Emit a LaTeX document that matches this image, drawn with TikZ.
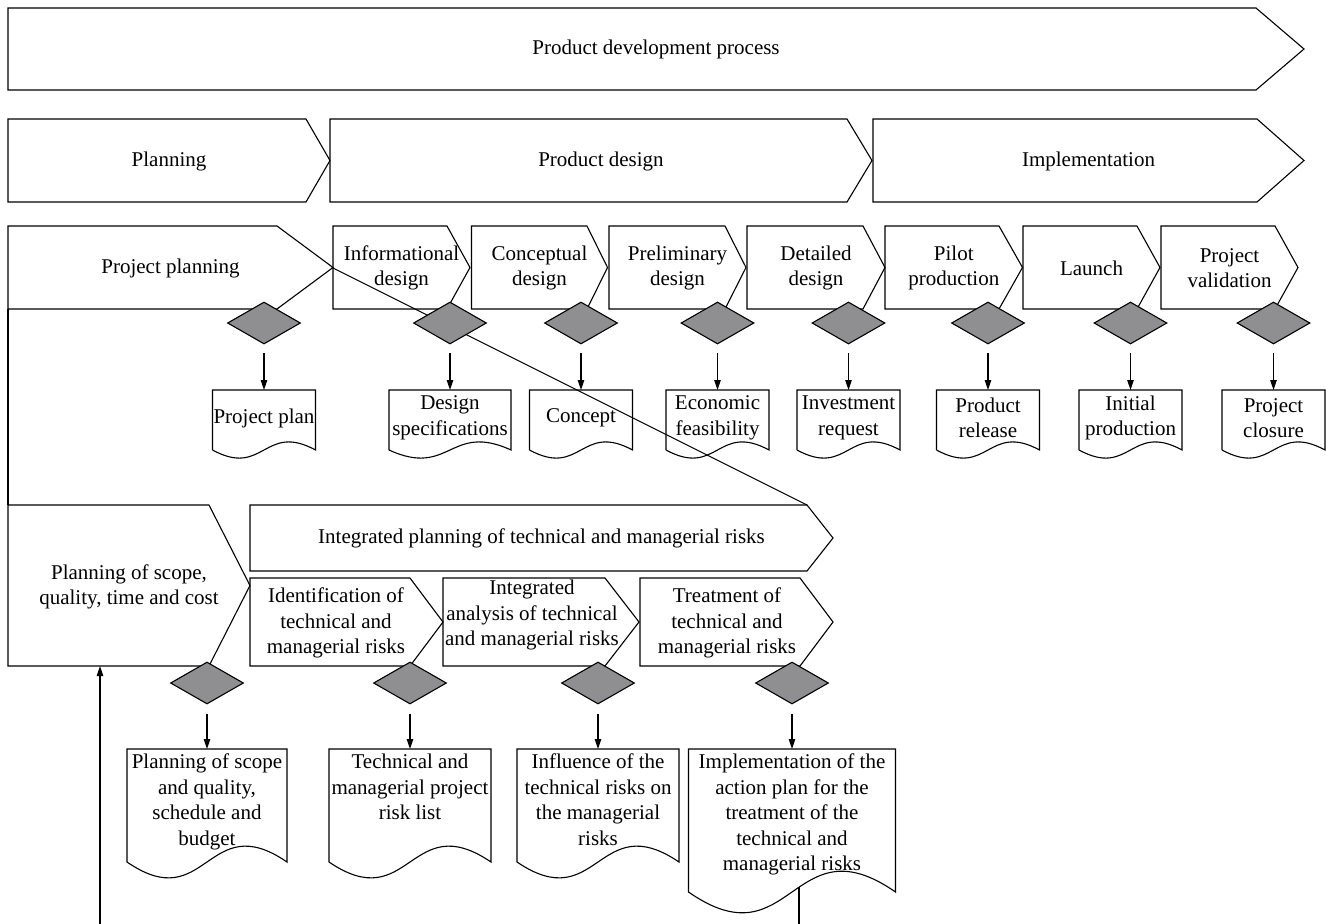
\documentclass[tikz,border=0pt]{standalone}
\usepackage{fontspec}
\setmainfont{Liberation Serif}
\usetikzlibrary{shapes.geometric,arrows.meta,calc}
\definecolor{diagray}{RGB}{143,143,145}
\newcommand{\pent}[5]{\draw[shp] (#1,#2) -- (#3,#2) -- (#5,{(#2+#4)/2}) -- (#3,#4) -- (#1,#4) -- cycle;}
\newcommand{\docout}[2]{\draw[shp] (#1.south west) -- (#1.north west) -- (#1.north east) -- (#1.south east) .. controls ($(#1.south)+(0,-#2)$) and ($(#1.south)+(0,#2)$) .. (#1.south west);}
\begin{document}
\begin{tikzpicture}[x=1pt,y=-1pt,
  shp/.style={draw=black,line width=1.1pt,line join=miter},
  lbl/.style={align=center,inner sep=0pt,font=\fontsize{21}{25.5}\selectfont},
  dia/.style={diamond,draw=black,fill=diagray,line width=1.1pt,inner sep=0pt,minimum width=73pt,minimum height=42pt},
  docbox/.style={rectangle,draw=none,inner sep=0pt,outer sep=0pt},
  arr/.style={line width=1.1pt,-{Triangle[length=10pt,width=6.5pt]}}]
\useasboundingbox (0,0) rectangle (1326,924);

% ---- phase arrows ----
\pent{8}{8}{1256}{90}{1304}
\pent{8}{119}{306}{202}{330}
\pent{330}{119}{847}{202}{872}
\pent{873}{119}{1257}{202}{1304}
\pent{8}{226}{277}{309}{333}
\pent{333}{226}{447}{309}{470}
\pent{471.5}{226}{587}{309}{607.5}
\pent{609}{226}{725}{309}{746}
\pent{747}{226}{863}{309}{885}
\pent{885}{226}{999}{309}{1022.5}
\pent{1023}{226}{1137}{309}{1160}
\pent{1161}{226}{1275}{309}{1298}
\draw[shp] (8,309) -- (8,505);
\pent{8}{505}{209}{666}{250}
\pent{250}{505}{807}{571}{833}
\pent{250}{578}{410}{666}{443}
\pent{443}{578}{605}{666}{639}
\pent{640}{578}{800}{666}{833}

% ---- labels ----
\node[lbl] (pdp) at (656,49) {Product development process};
\node[lbl] (plan) at (169,161) {Planning};
\node[lbl] (pdes) at (601,161) {Product design};
\node[lbl] (impl) at (1088.5,161) {Implementation};
\node[lbl] (pp) at (170.5,268) {Project planning};
\node[lbl] (s1) at (401.5,268) {Informational\\design};
\node[lbl] (s2) at (539.5,268) {Conceptual\\design};
\node[lbl] (s3) at (677.5,268) {Preliminary\\design};
\node[lbl] (s4) at (816,268) {Detailed\\design};
\node[lbl] (s5) at (953.75,268) {Pilot\\production};
\node[lbl] (s6) at (1091.5,268) {Launch};
\node[lbl] (s7) at (1229.5,268) {Project\\validation};
\node[lbl] (psq) at (129,587) {Planning of scope,\\quality, time and cost};
\node[lbl] (ipr) at (541.5,538) {Integrated planning of technical and managerial risks};
\node[lbl] (r1) at (336,623) {Identification of\\technical and\\managerial risks};
\node[lbl] (r2) at (532,615) {Integrated\\analysis of technical\\and managerial risks};
\node[lbl] (r3) at (727,623) {Treatment of\\technical and\\managerial risks};

% ---- top documents ----
\node[docbox,minimum width=103pt,minimum height=60pt] (d0) at (264,420) {};
\node[docbox,minimum width=122pt,minimum height=60pt] (d1) at (450,420) {};
\node[docbox,minimum width=103pt,minimum height=60pt] (d2) at (581,420) {};
\node[docbox,minimum width=103pt,minimum height=60pt] (d3) at (717.5,420) {};
\node[docbox,minimum width=103pt,minimum height=60pt] (d4) at (848.5,420) {};
\node[docbox,minimum width=103pt,minimum height=60pt] (d5) at (988,420) {};
\node[docbox,minimum width=103pt,minimum height=60pt] (d6) at (1130.5,420) {};
\node[docbox,minimum width=103pt,minimum height=60pt] (d7) at (1273.5,420) {};
\foreach \n in {d0,d1,d2,d3,d4,d5,d6,d7} {\docout{\n}{28}}
\node[lbl] (td0) at ($(d0.center)+(0,-2)$) {Project plan};
\node[lbl] (td1) at ($(d1.center)+(0,-2)$) {Design\\specifications};
\node[lbl] (td2) at ($(d2.center)+(0,-2)$) {Concept};
\node[lbl] (td3) at ($(d3.center)+(0,-2)$) {Economic\\feasibility};
\node[lbl] (td4) at ($(d4.center)+(0,-2)$) {Investment\\request};
\node[lbl] (td5) at ($(d5.center)+(0,-2)$) {Product\\release};
\node[lbl] (td6) at ($(d6.center)+(0,-2)$) {Initial\\production};
\node[lbl] (td7) at ($(d7.center)+(0,-2)$) {Project\\closure};

% ---- bottom documents ----
\node[docbox,minimum width=160pt,minimum height=113pt] (e0) at (207,805.5) {};
\node[docbox,minimum width=162pt,minimum height=113pt] (e1) at (410,805.5) {};
\node[docbox,minimum width=162pt,minimum height=113pt] (e2) at (598,805.5) {};
\node[docbox,minimum width=207pt,minimum height=143pt] (e3) at (792,820.5) {};
\docout{e0}{55}
\docout{e1}{55}
\docout{e2}{55}
\docout{e3}{72}
\node[lbl,anchor=north] (te0) at ($(e0.north)+(0,5)$) {Planning of scope\\and quality,\\schedule and\\budget};
\node[lbl,anchor=north] (te1) at ($(e1.north)+(0,5)$) {Technical and\\managerial project\\risk list};
\node[lbl,anchor=north] (te2) at ($(e2.north)+(0,5)$) {Influence of the\\technical risks on\\the managerial\\risks};
\node[lbl,anchor=north] (te3) at ($(e3.north)+(0,5)$) {Implementation of the\\action plan for the\\treatment of the\\technical and\\managerial risks};

% ---- zoom line ----
\coordinate (ztip) at (333,268);
\coordinate (zend) at (807,505);
\draw[shp] (ztip) -- (zend);

% ---- diamonds ----
\node[dia] (g0) at (264,323) {};
\node[dia] (g1) at (450,323) {};
\node[dia] (g2) at (581,323) {};
\node[dia] (g3) at (717.5,323) {};
\node[dia] (g4) at (848.5,323) {};
\node[dia] (g5) at (988,323) {};
\node[dia] (g6) at (1130.5,323) {};
\node[dia] (g7) at (1273.5,323) {};
\node[dia] (h0) at (207,683) {};
\node[dia] (h1) at (410,683) {};
\node[dia] (h2) at (598,683) {};
\node[dia] (h3) at (792,683) {};

% ---- arrows ----
\foreach \i in {0,...,7} {\draw[arr,shorten <=8.5pt] (g\i.south) -- (d\i.north);}
\foreach \i in {0,...,3} {\draw[arr,shorten <=9pt] (h\i.south) -- (e\i.north);}

% ---- feedback ----
\coordinate (fb1) at (799,887);
\coordinate (fb2) at (799,924);
\coordinate (fb3) at (100,924);
\coordinate (psb) at (100,666);
\draw[shp] (fb1) -- (fb2);
\draw[arr] (fb3) -- (psb);
\end{tikzpicture}
\end{document}
